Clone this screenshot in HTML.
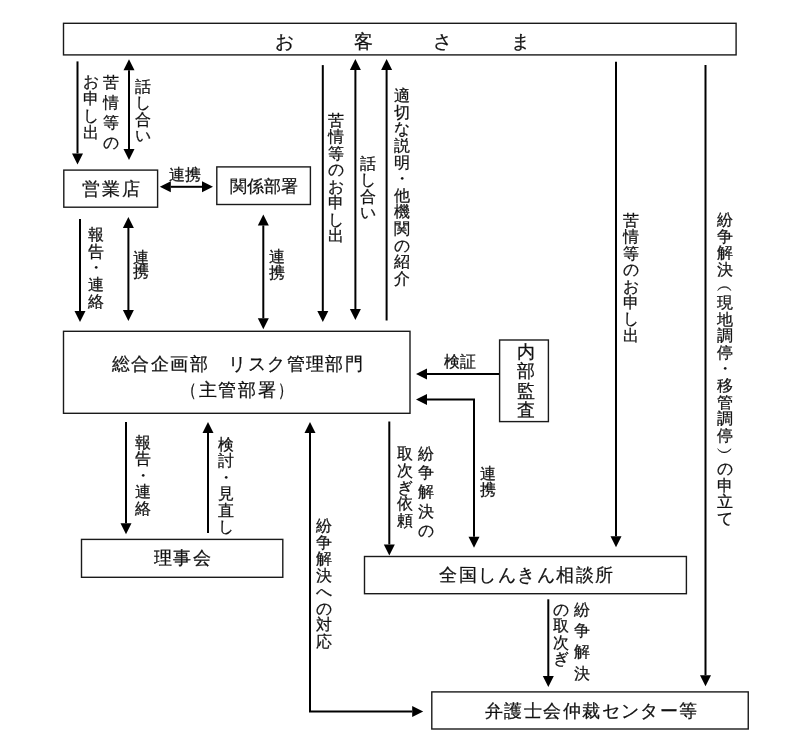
<!DOCTYPE html>
<html><head><meta charset="utf-8"><style>
html,body{margin:0;padding:0;background:#fff;width:800px;height:745px;overflow:hidden}
body{position:relative;font-family:"Liberation Sans",sans-serif;color:#111;-webkit-text-stroke:0.25px #111}
.l{position:absolute;white-space:nowrap;line-height:1;will-change:transform}
.v{position:absolute;text-align:center;will-change:transform}
svg{position:absolute;left:0;top:0}
</style></head><body>

<svg width="800" height="745" viewBox="0 0 800 745">
<rect x="63.50" y="23.30" width="672.60" height="31.60" fill="none" stroke="#1a1a1a" stroke-width="1.40"/>
<rect x="63.80" y="170.10" width="93.80" height="37.10" fill="none" stroke="#1a1a1a" stroke-width="1.40"/>
<rect x="216.80" y="166.90" width="93.60" height="37.60" fill="none" stroke="#1a1a1a" stroke-width="1.40"/>
<rect x="63.50" y="331.30" width="346.50" height="82.00" fill="none" stroke="#1a1a1a" stroke-width="1.40"/>
<rect x="499.60" y="340.00" width="48.80" height="81.60" fill="none" stroke="#1a1a1a" stroke-width="1.40"/>
<rect x="81.50" y="539.40" width="201.30" height="37.90" fill="none" stroke="#1a1a1a" stroke-width="1.40"/>
<rect x="364.50" y="556.50" width="321.90" height="37.20" fill="none" stroke="#1a1a1a" stroke-width="1.40"/>
<rect x="431.80" y="691.90" width="316.45" height="37.10" fill="none" stroke="#1a1a1a" stroke-width="1.40"/>
<polyline points="77.50,61.40 77.50,153.40" fill="none" stroke="#000" stroke-width="2.00"/>
<polygon points="77.50,164.40 72.00,153.40 83.00,153.40" fill="#000"/>
<polyline points="129.00,70.30 129.00,149.00" fill="none" stroke="#000" stroke-width="2.00"/>
<polygon points="129.00,160.00 123.50,149.00 134.50,149.00" fill="#000"/>
<polygon points="129.00,59.30 134.50,70.30 123.50,70.30" fill="#000"/>
<polyline points="170.80,186.80 202.00,186.80" fill="none" stroke="#000" stroke-width="2.00"/>
<polygon points="213.00,186.80 202.00,192.30 202.00,181.30" fill="#000"/>
<polygon points="159.80,186.80 170.80,181.30 170.80,192.30" fill="#000"/>
<polyline points="80.00,219.00 80.00,311.00" fill="none" stroke="#000" stroke-width="2.00"/>
<polygon points="80.00,322.00 74.50,311.00 85.50,311.00" fill="#000"/>
<polyline points="128.40,227.90 128.40,310.00" fill="none" stroke="#000" stroke-width="2.00"/>
<polygon points="128.40,321.00 122.90,310.00 133.90,310.00" fill="#000"/>
<polygon points="128.40,216.90 133.90,227.90 122.90,227.90" fill="#000"/>
<polyline points="263.30,225.40 263.30,318.30" fill="none" stroke="#000" stroke-width="2.00"/>
<polygon points="263.30,329.30 257.80,318.30 268.80,318.30" fill="#000"/>
<polygon points="263.30,214.40 268.80,225.40 257.80,225.40" fill="#000"/>
<polyline points="322.80,65.10 322.80,311.00" fill="none" stroke="#000" stroke-width="2.00"/>
<polygon points="322.80,322.00 317.30,311.00 328.30,311.00" fill="#000"/>
<polyline points="355.40,70.00 355.40,309.00" fill="none" stroke="#000" stroke-width="2.00"/>
<polygon points="355.40,320.00 349.90,309.00 360.90,309.00" fill="#000"/>
<polygon points="355.40,59.00 360.90,70.00 349.90,70.00" fill="#000"/>
<polyline points="386.60,320.50 386.60,70.00" fill="none" stroke="#000" stroke-width="2.00"/>
<polygon points="386.60,59.00 392.10,70.00 381.10,70.00" fill="#000"/>
<polyline points="499.00,374.00 427.00,374.00" fill="none" stroke="#000" stroke-width="2.00"/>
<polygon points="416.00,374.00 427.00,368.50 427.00,379.50" fill="#000"/>
<polyline points="427.00,399.60 474.00,399.60 474.00,536.80" fill="none" stroke="#000" stroke-width="2.00"/>
<polygon points="474.00,547.80 468.50,536.80 479.50,536.80" fill="#000"/>
<polygon points="416.00,399.60 427.00,394.10 427.00,405.10" fill="#000"/>
<polyline points="126.00,422.00 126.00,523.20" fill="none" stroke="#000" stroke-width="2.00"/>
<polygon points="126.00,534.20 120.50,523.20 131.50,523.20" fill="#000"/>
<polyline points="208.00,533.00 208.00,433.00" fill="none" stroke="#000" stroke-width="2.00"/>
<polygon points="208.00,422.00 213.50,433.00 202.50,433.00" fill="#000"/>
<polyline points="310.00,433.00 310.00,711.60 412.20,711.60" fill="none" stroke="#000" stroke-width="2.00"/>
<polygon points="423.20,711.60 412.20,717.10 412.20,706.10" fill="#000"/>
<polygon points="310.00,422.00 315.50,433.00 304.50,433.00" fill="#000"/>
<polyline points="389.30,421.50 389.30,544.40" fill="none" stroke="#000" stroke-width="2.00"/>
<polygon points="389.30,555.40 383.80,544.40 394.80,544.40" fill="#000"/>
<polyline points="548.30,599.30 548.30,676.00" fill="none" stroke="#000" stroke-width="2.00"/>
<polygon points="548.30,687.00 542.80,676.00 553.80,676.00" fill="#000"/>
<polyline points="616.00,61.75 616.00,536.20" fill="none" stroke="#000" stroke-width="2.00"/>
<polygon points="616.00,547.20 610.50,536.20 621.50,536.20" fill="#000"/>
<polyline points="705.50,65.00 705.50,675.25" fill="none" stroke="#000" stroke-width="2.00"/>
<polygon points="705.50,686.25 700.00,675.25 711.00,675.25" fill="#000"/>
</svg>
<div class="l" id="t_okyaku" style="left:274.70px;top:32.67px;font-size:18.50px;letter-spacing:0.70px">お　　　客　　　さ　　　ま</div>
<div class="l" id="t_eigyo" style="left:82.45px;top:179.58px;font-size:18.00px;letter-spacing:1.77px">営業店</div>
<div class="l" id="t_kankei" style="left:229.53px;top:177.78px;font-size:17.00px;letter-spacing:0.10px">関係部署</div>
<div class="l" id="t_renkei_h" style="left:169.35px;top:167.06px;font-size:15.50px;letter-spacing:-0.40px">連携</div>
<div class="l" id="t_sogo" style="left:112.12px;top:355.29px;font-size:18.00px;letter-spacing:1.39px">総合企画部　リスク管理部門</div>
<div class="l" id="t_shukan" style="left:179.73px;top:380.60px;font-size:18.00px;letter-spacing:1.65px"><span style="display:inline-block;transform:scaleX(0.8)">（</span><span style="margin-left:-1px">主管部署</span><span style="display:inline-block;margin-left:-1px;transform:scaleX(0.8)">）</span></div>
<div class="l" id="t_kensho" style="left:444.19px;top:354.02px;font-size:15.50px;letter-spacing:-0.07px">検証</div>
<div class="l" id="t_rijikai" style="left:154.24px;top:548.81px;font-size:18.00px;letter-spacing:1.33px">理事会</div>
<div class="l" id="t_zenkoku" style="left:438.96px;top:565.82px;font-size:18.00px;letter-spacing:1.50px">全国しんきん相談所</div>
<div class="l" id="t_bengo" style="left:484.70px;top:701.53px;font-size:18.00px;letter-spacing:1.43px">弁護士会仲裁センター等</div>
<div class="v" id="v_omoushide" style="left:83.40px;top:74.30px;font-size:15.50px;line-height:16.85px;width:15.50px">お<br>申<br>し<br>出</div>
<div class="v" id="v_kujo" style="left:102.75px;top:73.16px;font-size:15.50px;line-height:19.99px;width:15.50px">苦<br>情<br>等<br>の</div>
<div class="v" id="v_hanashi1" style="left:135.05px;top:78.97px;font-size:15.50px;line-height:16.38px;width:15.50px">話<br>し<br>合<br>い</div>
<div class="v" id="v_hokoku1" style="left:87.67px;top:227.27px;font-size:15.50px;line-height:16.67px;width:15.50px">報<br>告<br>・<br>連<br>絡</div>
<div class="v" id="v_renkei1" style="left:132.98px;top:250.69px;font-size:15.50px;line-height:14.46px;width:15.50px">連<br>携</div>
<div class="v" id="v_renkei2" style="left:268.70px;top:248.96px;font-size:15.50px;line-height:15.93px;width:15.50px">連<br>携</div>
<div class="v" id="v_kujo2" style="left:328.40px;top:112.91px;font-size:15.50px;line-height:16.49px;width:15.50px">苦<br>情<br>等<br>の<br>お<br>申<br>し<br>出</div>
<div class="v" id="v_hanashi2" style="left:360.03px;top:156.12px;font-size:15.50px;line-height:16.30px;width:15.50px">話<br>し<br>合<br>い</div>
<div class="v" id="v_tekisetsu" style="left:394.21px;top:88.42px;font-size:15.50px;line-height:16.62px;width:15.50px">適<br>切<br>な<br>説<br>明<br>・<br>他<br>機<br>関<br>の<br>紹<br>介</div>
<div class="v" id="v_naibu" style="left:517.46px;top:342.89px;font-size:18.00px;line-height:19.29px;width:18.00px">内<br>部<br>監<br>査</div>
<div class="v" id="v_renkei3" style="left:479.93px;top:466.29px;font-size:15.50px;line-height:15.70px;width:15.50px">連<br>携</div>
<div class="v" id="v_hokoku2" style="left:134.72px;top:434.59px;font-size:15.50px;line-height:16.44px;width:15.50px">報<br>告<br>・<br>連<br>絡</div>
<div class="v" id="v_kento" style="left:217.99px;top:437.14px;font-size:15.50px;line-height:16.44px;width:15.50px">検<br>討<br>・<br>見<br>直<br>し</div>
<div class="v" id="v_funso1" style="left:315.77px;top:518.26px;font-size:15.50px;line-height:16.52px;width:15.50px">紛<br>争<br>解<br>決<br>へ<br>の<br>対<br>応</div>
<div class="v" id="v_toritsugi1" style="left:397.28px;top:445.98px;font-size:15.50px;line-height:16.76px;width:15.50px">取<br>次<br>ぎ<br>依<br>頼</div>
<div class="v" id="v_funso2" style="left:418.21px;top:444.12px;font-size:15.50px;line-height:19.17px;width:15.50px">紛<br>争<br>解<br>決<br>の</div>
<div class="v" id="v_toritsugi2" style="left:553.27px;top:602.07px;font-size:15.50px;line-height:16.44px;width:15.50px">の<br>取<br>次<br>ぎ</div>
<div class="v" id="v_funso3" style="left:573.59px;top:599.21px;font-size:15.50px;line-height:21.20px;width:15.50px">紛<br>争<br>解<br>決</div>
<div class="v" id="v_kujo3" style="left:623.15px;top:212.66px;font-size:15.50px;line-height:16.37px;width:15.50px">苦<br>情<br>等<br>の<br>お<br>申<br>し<br>出</div>
<div class="v" id="v_funso4" style="left:717.49px;top:212.21px;font-size:15.50px;line-height:16.61px;width:15.50px">紛<br>争<br>解<br>決<br>︵<br>現<br>地<br>調<br>停<br>・<br>移<br>管<br>調<br>停<br>︶<br>の<br>申<br>立<br>て</div>
</body></html>
